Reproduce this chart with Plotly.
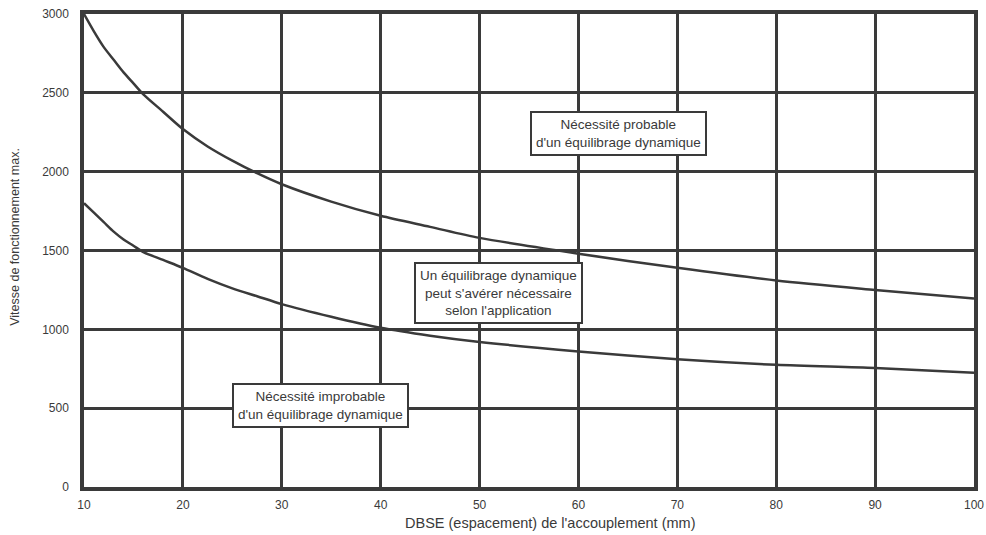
import plotly.graph_objects as go

x_vals = [10, 11, 12, 13, 14, 15, 16, 18, 20, 22.5, 25, 27.5, 30, 35, 40, 45, 50, 60, 70, 80, 90, 100]
upper_curve = [3000, 2890, 2790, 2710, 2630, 2560, 2490, 2380, 2270, 2160, 2070, 1990, 1920,
               1810, 1720, 1650, 1580, 1480, 1390, 1310, 1250, 1195]
lower_curve = [1800, 1740, 1680, 1620, 1570, 1530, 1490, 1440, 1390, 1320, 1260, 1210, 1160,
               1080, 1010, 960, 920, 860, 810, 775, 755, 725]

x_ticks = [10, 20, 30, 40, 50, 60, 70, 80, 90, 100]
y_ticks = [0, 500, 1000, 1500, 2000, 2500, 3000]

region_labels = [
    "Nécessité probable<br>d'un équilibrage dynamique",
    "Un équilibrage dynamique<br>peut s'avérer nécessaire<br>selon l'application",
    "Nécessité improbable<br>d'un équilibrage dynamique",
]
region_x = [64.1, 51.9, 33.9]
region_y = [2245, 1230, 520]

ink = "#3a3a3a"
font_family = "Liberation Sans Narrow, Liberation Sans, Arial, sans-serif"

fig = go.Figure()
for ys in (upper_curve, lower_curve):
    fig.add_trace(go.Scatter(x=x_vals, y=ys, mode="lines",
                             line=dict(color=ink, width=2.5, shape="spline", smoothing=0.8),
                             showlegend=False, hoverinfo="skip"))

for txt, xx, yy in zip(region_labels, region_x, region_y):
    fig.add_annotation(x=xx, y=yy, xref="x", yref="y", text=txt, showarrow=False,
                       font=dict(family=font_family, size=13.5, color=ink),
                       bgcolor="white", bordercolor=ink, borderwidth=2, borderpad=4)

fig.add_annotation(x=0.524, y=-0.055, xref="paper", yref="paper",
                   text="DBSE (espacement) de l'accouplement (mm)", showarrow=False,
                   xanchor="center", yanchor="top",
                   font=dict(family=font_family, size=14.5, color=ink))
fig.add_annotation(x=-0.077, y=0.53, xref="paper", yref="paper",
                   text="Vitesse de fonctionnement max.", showarrow=False, textangle=-90,
                   xanchor="center", yanchor="middle",
                   font=dict(family=font_family, size=12.5, color=ink))

fig.update_layout(
    width=986, height=535,
    margin=dict(l=84, r=12, t=14, b=48, autoexpand=False),
    paper_bgcolor="white", plot_bgcolor="white",
    font=dict(family=font_family, size=12, color=ink),
)
fig.update_xaxes(range=[10, 100], tickvals=x_ticks, showgrid=True, gridcolor=ink, gridwidth=2.5,
                 showline=True, linecolor=ink, linewidth=3.5, mirror=True, zeroline=False,
                 ticks="", ticklabelstandoff=4, ticklabeloverflow="allow")
fig.update_yaxes(range=[0, 3000], tickvals=y_ticks, showgrid=True, gridcolor=ink, gridwidth=2.5,
                 showline=True, linecolor=ink, linewidth=3.5, mirror=True, zeroline=False,
                 ticks="", ticklabelstandoff=9, ticklabeloverflow="allow")

# remove the page's default body margin so the figure sits at the window's top-left corner
fig.write_html("out.html", config={"displayModeBar": False},
               post_script="document.body.style.margin='0';")
